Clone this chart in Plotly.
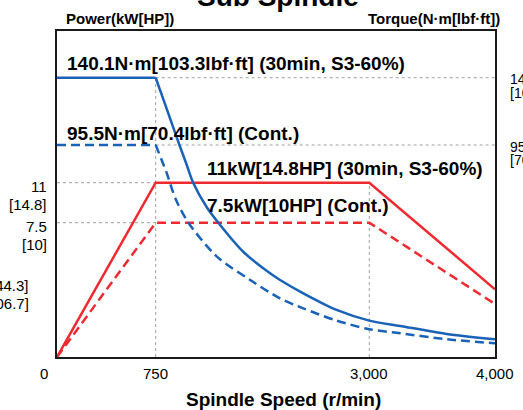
import numpy as np
import plotly.graph_objects as go

# ---------------- data ----------------
speed_power = [0, 750, 3000, 4000]
power_30min = [0, 11, 11, 3.78]
power_cont = [0, 7.5, 7.5, 2.96]

torque30_speed = [0, 750, 815, 900, 1000, 1070, 1145, 1285, 1410, 1675, 1955,
                  2060, 2305, 2655, 3000, 3245, 3615, 4000]
torque30_vals = [140.1, 140.1, 128.6, 113.4, 95.5, 87.4, 78.5, 67.7, 60.5, 47.3,
                 37.7, 34.7, 28.7, 21.2, 16.4, 14.0, 10.4, 8.0]
torqueC_speed = [0, 750, 860, 965, 1095, 1395, 1745, 2060, 2305, 2655, 3000,
                 3245, 3615, 4000]
torqueC_vals = [95.5, 95.5, 83.6, 70.7, 60.5, 45.2, 34.7, 26.4, 21.9, 16.4,
                12.5, 10.7, 8.0, 6.2]

x_tick_vals = [0, 750, 3000, 4000]
x_tick_text = ["0", "750", "3,000", "4,000"]
power_ticks = [11, 7.5]
power_ticks_hp = ["[14.8]", "[10]"]
torque_ticks = [140.1, 95.5]
torque_ticks_lbf = ["[103.3]", "[70.4]"]

# ---------------- scales (stylised, piecewise axes) ----------------
X_KNOT = [0, 750, 3000, 4000]
X_POS = [0, 0.2253, 0.7130, 1.0]
P_KNOT = [0, 7.5, 11, 20]
P_POS = [0, 0.4120, 0.5347, 0.90]
T_KNOT = [0, 95.5, 140.1, 200]
T_POS = [0, 0.6503, 0.8567, 1.15]


def xs(v):
    return np.interp(v, X_KNOT, X_POS)


def ps(v):
    return np.interp(v, P_KNOT, P_POS)


def ts(v):
    return np.interp(v, T_KNOT, T_POS)


L, R, T, B = 57, 28, 31, 53
W, H = 523, 410
PW, PH = W - L - R, H - T - B


def px(xp):
    return (xp - L) / PW


def py(yp):
    return (H - B - yp) / PH


BLUE = "#1a62b8"
RED = "#ee2a30"
GRID = "#a0a0a0"
FONT = "Liberation Sans, Arial, sans-serif"

fig = go.Figure()


def line(x, y, color, width, dash="solid", shape="linear"):
    fig.add_trace(go.Scatter(x=x, y=y, mode="lines", showlegend=False,
                             hoverinfo="skip",
                             line=dict(color=color, width=width, dash=dash,
                                       shape=shape, smoothing=0.8)))


# grid (dotted reference lines)
line(xs([0, 750]), ps([11, 11]), GRID, 1, "dot")
line(xs([0, 750]), ps([7.5, 7.5]), GRID, 1, "dot")
line(xs([750, 4000]), ts([140.1, 140.1]), GRID, 1, "dot")
line(xs([750, 4000]), ts([95.5, 95.5]), GRID, 1, "dot")
line(xs([750, 750]), [0, ts(140.1)], GRID, 1, "dot")
line(xs([3000, 3000]), [0, ps(11)], GRID, 1, "dot")

# power
line(xs(speed_power), ps(power_30min), RED, 2.5)
line(xs(speed_power), ps(power_cont), RED, 2.5, "9px,5px")

# torque
line(xs(torque30_speed[:2]), ts(torque30_vals[:2]), BLUE, 2.5)
line(xs(torque30_speed[1:]), ts(torque30_vals[1:]), BLUE, 2.5, shape="spline")
line(xs(torqueC_speed[:2]), ts(torqueC_vals[:2]), BLUE, 2.5, "9px,5px")
line(xs(torqueC_speed[1:]), ts(torqueC_vals[1:]), BLUE, 2.5, "9px,5px", shape="spline")

ann = []


def text(x, y, s, size=15, bold=False, xanchor="center", xref="paper"):
    ann.append(dict(x=x, y=y, xref=xref, yref="paper", text=("<b>%s</b>" % s) if bold else s,
                    showarrow=False, xanchor=xanchor, yanchor="middle",
                    font=dict(family=FONT, size=size, color="#000")))


# x tick labels
for v, t in zip(x_tick_vals, x_tick_text):
    xx = float(xs(v))
    if v == 0:
        xx = px(44)
    text(xx, py(373.5), t, 15)

# left power tick labels
for v, hp in zip(power_ticks, power_ticks_hp):
    yp = (H - B) - float(ps(v)) * PH
    text(px(48.5), py(yp + 4), str(v), 15, xanchor="right")
    text(px(48.5), py(yp + 22), hp, 15, xanchor="right")

# right torque tick labels
for v, lb in zip(torque_ticks, torque_ticks_lbf):
    yp = (H - B) - float(ts(v)) * PH
    text(px(508), py(yp + 1.5), str(v), 14, xanchor="left")
    text(px(508), py(yp + 15), lb, 14, xanchor="left")

# cut-off labels from neighbouring chart
text(px(31), py(285), "[44.3]", 15, xanchor="right")
text(px(31), py(303), "[306.7]", 15, xanchor="right")

# axis titles
text(px(283), py(400), "Spindle Speed (r/min)", 19, True)
text(px(64), py(18), "Power(kW[HP])", 15, True, xanchor="left")
text(px(502), py(18), "Torque(N·m[lbf·ft])", 15, True, xanchor="right")
text(px(278), py(-3), "Sub Spindle", 28, True)

# curve labels
text(px(65), py(63.5), "140.1N·m[103.3lbf·ft] (30min, S3-60%)", 19, True, xanchor="left")
text(px(65), py(133), "95.5N·m[70.4lbf·ft] (Cont.)", 19, True, xanchor="left")
text(px(205), py(168), "11kW[14.8HP] (30min, S3-60%)", 19, True, xanchor="left")
text(px(205), py(205), "7.5kW[10HP] (Cont.)", 19, True, xanchor="left")

fig.update_layout(
    width=W, height=H,
    margin=dict(l=L, r=R, t=T, b=B, pad=0),
    paper_bgcolor="white", plot_bgcolor="white",
    annotations=ann,
    xaxis=dict(range=[0, 1], showgrid=False, zeroline=False, showticklabels=False,
               ticks="", showline=True, mirror=True, linecolor="#1a1a1a", linewidth=1.5,
               fixedrange=True),
    yaxis=dict(range=[0, 1], showgrid=False, zeroline=False, showticklabels=False,
               ticks="", showline=True, mirror=True, linecolor="#1a1a1a", linewidth=1.5,
               fixedrange=True),
)

fig.write_html("out.html", config={"displayModeBar": False})
